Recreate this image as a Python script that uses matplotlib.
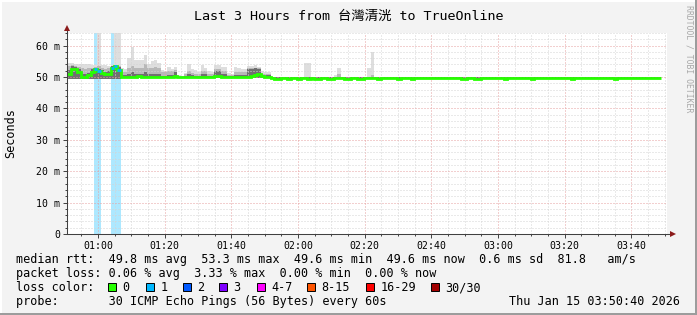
import numpy as np
import matplotlib.pyplot as plt
from matplotlib.patches import Rectangle
from matplotlib.ticker import FuncFormatter, MultipleLocator

# one sample per minute, value covers the minute ending at t_start + i (minutes after midnight)
t_start = 50.75

median_ms = [
    51.1, 51.1, 52.6, 52.5, 51.5, 50.1, 50.0, 50.5, 51.5, 52.4, 52.0, 51.4, 50.8, 51.0, 53.0, 53.4, 52.2, 50.0, 50.0, 50.1,
    50.0, 50.0, 50.2, 50.0, 50.0, 50.1, 50.0, 50.0, 50.0, 50.1, 50.0, 50.0, 50.0, 50.2, 50.0, 50.0, 50.0, 50.0, 50.1, 50.0,
    50.0, 50.0, 50.0, 50.0, 50.0, 50.2, 50.3, 50.0, 50.0, 50.0, 50.0, 50.0, 50.0, 50.0, 50.0, 50.1, 50.2, 50.6, 50.9, 50.4,
    50.0, 50.0, 49.8, 49.5, 49.5, 49.8, 49.8, 49.5, 49.8, 49.8, 49.5, 49.8, 49.8, 49.5, 49.8, 49.5, 49.5, 49.8, 49.8, 49.5,
    49.5, 49.8, 49.8, 49.8, 49.5, 49.5, 49.8, 49.8, 49.5, 49.5, 49.8, 49.8, 49.8, 49.8, 49.5, 49.8, 49.8, 49.8, 49.8, 49.8,
    49.5, 49.8, 49.8, 49.8, 49.5, 49.8, 49.8, 49.8, 49.8, 49.8, 49.8, 49.8, 49.8, 49.8, 49.8, 49.8, 49.8, 49.8, 49.8, 49.5,
    49.5, 49.8, 49.8, 49.5, 49.5, 49.8, 49.8, 49.8, 49.8, 49.8, 49.8, 49.8, 49.5, 49.8, 49.8, 49.8, 49.8, 49.8, 49.8, 49.8,
    49.5, 49.8, 49.8, 49.8, 49.8, 49.8, 49.8, 49.8, 49.8, 49.8, 49.8, 49.8, 49.5, 49.8, 49.8, 49.8, 49.8, 49.8, 49.8, 49.8,
    49.8, 49.8, 49.8, 49.8, 49.8, 49.5, 49.8, 49.8, 49.8, 49.8, 49.8, 49.8, 49.8, 49.8, 49.8, 49.8, 49.8, 49.8, 49.8,
]

loss_count = [
    0, 0, 0, 0, 0, 0, 0, 0, 0, 1, 1, 0, 0, 0, 1, 1, 1, 0, 0, 0,
    0, 0, 0, 0, 0, 0, 0, 0, 0, 0, 0, 0, 0, 0, 0, 0, 0, 0, 0, 0,
    0, 0, 0, 0, 0, 0, 0, 0, 0, 0, 0, 0, 0, 0, 0, 0, 0, 0, 0, 0,
    0, 0, 0, 0, 0, 0, 0, 0, 0, 0, 0, 0, 0, 0, 0, 0, 0, 0, 0, 0,
    0, 0, 0, 0, 0, 0, 0, 0, 0, 0, 0, 0, 0, 0, 0, 0, 0, 0, 0, 0,
    0, 0, 0, 0, 0, 0, 0, 0, 0, 0, 0, 0, 0, 0, 0, 0, 0, 0, 0, 0,
    0, 0, 0, 0, 0, 0, 0, 0, 0, 0, 0, 0, 0, 0, 0, 0, 0, 0, 0, 0,
    0, 0, 0, 0, 0, 0, 0, 0, 0, 0, 0, 0, 0, 0, 0, 0, 0, 0, 0, 0,
    0, 0, 0, 0, 0, 0, 0, 0, 0, 0, 0, 0, 0, 0, 0, 0, 0, 0, 0,
]

# smoke: fastest ping, upper edges of the dark / mid bands, slowest ping
smoke_min = [
    49.5, 49.5, 49.5, 49.5, 49.5, 49.5, 49.5, 49.5, 49.5, 49.5, 49.5, 49.5, 49.5, 49.5, 49.5, 49.5, 49.5, 49.7, 49.7, 49.7,
    49.7, 49.7, 49.7, 49.7, 49.7, 49.7, 49.7, 49.7, 49.7, 49.7, 49.7, 49.7, 49.7, 49.7, 49.7, 49.7, 49.7, 49.7, 49.7, 49.7,
    49.7, 49.7, 49.7, 49.7, 49.7, 49.7, 49.7, 49.7, 49.7, 49.7, 49.7, 49.7, 49.7, 49.7, 49.7, 49.7, 49.7, 49.7, 49.7, 49.7,
    49.7, 49.7, 49.5, 49.5, 49.5, 49.5, 49.5, 49.5, 49.5, 49.5, 49.5, 49.5, 49.5, 49.5, 49.5, 49.5, 49.5, 49.5, 49.5, 49.5,
    49.5, 49.5, 49.5, 49.5, 49.5, 49.5, 49.5, 49.5, 49.5, 49.5, 49.5, 49.5, 49.5, 49.5, 49.5, 49.5, 49.5, 49.5, 49.5, 49.5,
    49.5, 49.5, 49.5, 49.5, 49.5, 49.5, 49.5, 49.5, 49.5, 49.5, 49.5, 49.5, 49.5, 49.5, 49.5, 49.5, 49.5, 49.5, 49.5, 49.5,
    49.5, 49.5, 49.5, 49.5, 49.5, 49.5, 49.5, 49.5, 49.5, 49.5, 49.5, 49.5, 49.5, 49.5, 49.5, 49.5, 49.5, 49.5, 49.5, 49.5,
    49.5, 49.5, 49.5, 49.5, 49.5, 49.5, 49.5, 49.5, 49.5, 49.5, 49.5, 49.5, 49.5, 49.5, 49.5, 49.5, 49.5, 49.5, 49.5, 49.5,
    49.5, 49.5, 49.5, 49.5, 49.5, 49.5, 49.5, 49.5, 49.5, 49.5, 49.5, 49.5, 49.5, 49.5, 49.5, 49.5, 49.5, 49.5, 49.5,
]

smoke_dark = [
    52.2, 52.2, 53.4, 53.2, 52.4, 51.0, 50.8, 51.4, 52.4, 52.8, 52.6, 52.2, 51.6, 51.8, 53.4, 53.8, 53.2, 50.6, 50.6, 51.0,
    51.5, 51.0, 51.0, 50.8, 51.5, 50.8, 50.8, 51.0, 50.8, 50.4, 50.4, 50.6, 50.6, 51.5, 50.1, 50.1, 50.4, 50.8, 50.5, 50.4,
    50.4, 50.8, 50.8, 50.4, 50.4, 52.0, 52.0, 50.8, 50.8, 50.2, 50.2, 50.6, 50.6, 50.5, 50.5, 52.5, 52.5, 52.8, 52.4, 50.6,
    50.6, 50.6, 49.9, 49.9, 49.9, 49.9, 49.9, 49.9, 49.9, 49.9, 49.9, 49.9, 49.9, 49.9, 49.9, 49.9, 49.9, 49.9, 49.9, 49.9,
    49.9, 49.9, 49.9, 49.9, 49.9, 49.9, 49.9, 49.9, 49.9, 49.9, 49.9, 49.9, 49.9, 49.9, 49.9, 49.9, 49.9, 49.9, 49.9, 49.9,
    49.9, 49.9, 49.9, 49.9, 49.9, 49.9, 49.9, 49.9, 49.9, 49.9, 49.9, 49.9, 49.9, 49.9, 49.9, 49.9, 49.9, 49.9, 49.9, 49.9,
    49.9, 49.9, 49.9, 49.9, 49.9, 49.9, 49.9, 49.9, 49.9, 49.9, 49.9, 49.9, 49.9, 49.9, 49.9, 49.9, 49.9, 49.9, 49.9, 49.9,
    49.9, 49.9, 49.9, 49.9, 49.9, 49.9, 49.9, 49.9, 49.9, 49.9, 49.9, 49.9, 49.9, 49.9, 49.9, 49.9, 49.9, 49.9, 49.9, 49.9,
    49.9, 49.9, 49.9, 49.9, 49.9, 49.9, 49.9, 49.9, 49.9, 49.9, 49.9, 49.9, 49.9, 49.9, 49.9, 49.9, 49.9, 49.9, 49.9,
]

smoke_mid = [
    53.6, 53.6, 53.8, 53.6, 53.2, 52.8, 52.6, 52.8, 53.0, 53.2, 53.4, 53.0, 52.6, 52.8, 53.6, 53.8, 53.6, 51.5, 51.5, 53.0,
    53.5, 53.0, 53.0, 52.8, 54.0, 53.0, 53.0, 53.2, 53.0, 51.5, 51.5, 52.0, 52.0, 52.2, 50.3, 50.2, 51.0, 52.0, 51.2, 51.0,
    51.0, 52.0, 52.0, 51.0, 51.0, 52.5, 52.5, 52.0, 52.0, 50.5, 50.5, 51.5, 51.5, 51.5, 51.5, 52.8, 52.8, 52.8, 52.8, 51.0,
    51.0, 51.0, 50.0, 50.0, 50.0, 50.0, 50.0, 50.0, 50.0, 50.0, 50.0, 50.0, 50.0, 50.0, 50.0, 50.0, 50.0, 50.0, 50.0, 50.0,
    50.0, 50.0, 51.0, 50.0, 50.0, 50.0, 50.0, 50.0, 50.0, 50.0, 50.0, 50.0, 50.5, 50.0, 50.0, 50.0, 50.0, 50.0, 50.0, 50.0,
    50.0, 50.0, 50.0, 50.0, 50.0, 50.0, 50.0, 50.0, 50.0, 50.0, 50.0, 50.0, 50.0, 50.0, 50.0, 50.0, 50.0, 50.0, 50.0, 50.0,
    50.0, 50.0, 50.0, 50.0, 50.0, 50.0, 50.0, 50.0, 50.0, 50.0, 50.0, 50.0, 50.0, 50.0, 50.0, 50.0, 50.0, 50.0, 50.0, 50.0,
    50.0, 50.0, 50.0, 50.0, 50.0, 50.0, 50.0, 50.0, 50.0, 50.0, 50.0, 50.0, 50.0, 50.0, 50.0, 50.0, 50.0, 50.0, 50.0, 50.0,
    50.0, 50.0, 50.0, 50.0, 50.0, 50.0, 50.0, 50.0, 50.0, 50.0, 50.0, 50.0, 50.0, 50.0, 50.0, 50.0, 50.0, 50.0, 50.0,
]

smoke_max = [
    54.4, 54.4, 54.4, 54.2, 54.0, 54.0, 54.2, 54.0, 53.8, 53.8, 70.0, 53.8, 53.8, 53.6, 53.8, 70.0, 70.0, 53.0, 52.5, 56.0,
    59.4, 55.3, 55.3, 55.3, 57.0, 54.0, 55.0, 55.4, 54.5, 52.2, 52.0, 53.3, 52.5, 53.3, 50.6, 50.3, 51.4, 54.0, 52.5, 52.2,
    51.5, 53.7, 52.8, 51.9, 51.5, 53.8, 53.8, 53.3, 53.3, 51.4, 51.0, 53.3, 53.0, 52.5, 52.6, 53.5, 53.5, 53.8, 53.3, 52.0,
    51.7, 51.7, 50.1, 50.1, 50.1, 50.1, 50.1, 50.1, 50.1, 50.1, 50.1, 50.1, 54.4, 54.4, 50.1, 50.1, 50.1, 50.1, 50.1, 50.1,
    50.1, 50.6, 52.7, 50.1, 50.1, 50.1, 50.1, 50.1, 50.1, 50.1, 50.1, 53.0, 57.8, 50.1, 50.1, 50.1, 50.1, 50.1, 50.1, 50.1,
    50.1, 50.1, 50.1, 50.1, 50.1, 50.1, 50.1, 50.1, 50.1, 50.1, 50.1, 50.1, 50.1, 50.1, 50.1, 50.1, 50.1, 50.1, 50.1, 50.1,
    50.1, 50.1, 50.1, 50.1, 50.1, 50.1, 50.1, 50.1, 50.1, 50.1, 50.1, 50.1, 50.1, 50.1, 50.1, 50.1, 50.1, 50.1, 50.1, 50.1,
    50.1, 50.1, 50.1, 50.1, 50.1, 50.1, 50.1, 50.1, 50.1, 50.1, 50.1, 50.1, 50.1, 50.1, 50.1, 50.1, 50.1, 50.1, 50.1, 50.1,
    50.1, 50.1, 50.1, 50.1, 50.1, 50.1, 50.1, 50.1, 50.1, 50.1, 50.1, 50.1, 50.1, 50.1, 50.1, 50.1, 50.1, 50.1, 50.1,
]

loss_labels = ["0", "1", "2", "3", "4-7", "8-15", "16-29", "30/30"]
loss_colors = ["#26ff00", "#00b8ff", "#0059ff", "#7e00ff", "#ff00ff", "#ff5500", "#ff0000", "#a10000"]

stats_rtt = "median rtt:  49.8 ms avg  53.3 ms max  49.6 ms min  49.6 ms now  0.6 ms sd  81.8   am/s"
stats_loss = "packet loss: 0.06 % avg  3.33 % max  0.00 % min  0.00 % now"
probe_text = "probe:       30 ICMP Echo Pings (56 Bytes) every 60s"
stamp = "Thu Jan 15 03:50:40 2026"

plt.rcParams['font.family'] = ['DejaVu Sans Mono', 'Noto Sans CJK TC']

W, H = 697, 315
fig = plt.figure(figsize=(W / 100, H / 100), dpi=100, facecolor='#f3f3f3')
ax = fig.add_axes([67 / W, 1 - 234 / H, 600 / W, 201 / H])
ax.set_facecolor('white')

n = len(median_ms)
edges = t_start - 1 + np.arange(n + 1)
med = np.array(median_ms)
loss = np.array(loss_count)

# loss background bars
for i in range(n):
    if loss[i] > 0:
        ax.axvspan(edges[i], edges[i + 1], color=loss_colors[1], alpha=0.32, lw=0, zorder=1)

# smoke
ax.stairs(smoke_max, edges, baseline=smoke_min, fill=True, color='#dedede', lw=0, zorder=2)
ax.stairs(smoke_mid, edges, baseline=smoke_min, fill=True, color='#b8b8b8', lw=0, zorder=2)
ax.stairs(smoke_dark, edges, baseline=smoke_min, fill=True, color='#707070', lw=0, zorder=2)

# median line, coloured by loss
ax.stairs(med, edges, baseline=None, color=loss_colors[0], lw=2.0, zorder=4)
for i in range(n):
    if loss[i] > 0:
        ax.hlines(med[i], edges[i], edges[i + 1], color=loss_colors[1], lw=2.0, zorder=5)

ax.set_xlim(50 + 40 / 60, 230 + 40 / 60)
ax.set_ylim(0, 64)

ax.xaxis.set_major_locator(MultipleLocator(20))
ax.xaxis.set_minor_locator(MultipleLocator(5))
ax.xaxis.set_major_formatter(FuncFormatter(lambda v, p: f"{int(v // 60):02d}:{int(v % 60):02d}"))
ax.yaxis.set_major_locator(MultipleLocator(10))
ax.yaxis.set_minor_locator(MultipleLocator(2))
ax.yaxis.set_major_formatter(FuncFormatter(lambda v, p: "0" if v == 0 else f"{int(v)} m"))

ax.set_axisbelow(False)
ax.grid(which='minor', color='#d4d4d4', linestyle=(0, (1, 2)), lw=0.72, zorder=3)
ax.grid(which='major', color='#e6a0a0', linestyle=(0, (1, 2)), lw=0.72, zorder=3)

for s in ax.spines.values():
    s.set_visible(False)
ax.tick_params(which='major', length=3, width=0.7, color='#404040', labelsize=7.1, pad=2, labelcolor='#000000')
ax.tick_params(which='minor', length=1.5, width=0.7, color='#404040')

# axes with arrows
ax.plot([0, 0], [0, 1 + 3 / 201], transform=ax.transAxes, color='#404040', lw=0.75, clip_on=False, zorder=6)
ax.plot([0, 1 + 3 / 600], [0, 0], transform=ax.transAxes, color='#404040', lw=0.75, clip_on=False, zorder=6)
ax.plot(0, 1 + 5 / 201, marker='^', ms=4.5, color='#8b1a1a', mew=0, transform=ax.transAxes, clip_on=False, zorder=6)
ax.plot(1 + 6 / 600, 0, marker='>', ms=4.5, color='#8b1a1a', mew=0, transform=ax.transAxes, clip_on=False, zorder=6)

fig.text(348.5 / W, 1 - 19.5 / H, "Last 3 Hours from 台灣清洸 to TrueOnline",
         ha='center', va='baseline', fontsize=9.6)
fig.text(11 / W, 1 - 133 / H, "Seconds", rotation=90, ha='center', va='center', fontsize=8.5)
fig.text(689 / W, 1 - 5 / H, "RRDTOOL / TOBI OETIKER", rotation=270, ha='center', va='top',
         fontsize=5.9, color='#a8a8a8')

fig.text(16 / W, 1 - 263.3 / H, stats_rtt, ha='left', va='baseline', fontsize=8.5)
fig.text(16 / W, 1 - 277.3 / H, stats_loss, ha='left', va='baseline', fontsize=8.5)
fig.text(16 / W, 1 - 291.3 / H, "loss color:", ha='left', va='baseline', fontsize=8.5)
fig.text(16 / W, 1 - 305 / H, probe_text, ha='left', va='baseline', fontsize=8.5)
fig.text(680 / W, 1 - 305 / H, stamp, ha='right', va='baseline', fontsize=8.5)

box_x = [108, 146, 183, 219, 257, 307, 366, 431]
for bx, lab, col in zip(box_x, loss_labels, loss_colors):
    fig.add_artist(Rectangle((bx / W, 1 - 291 / H), 8 / W, 8 / H, transform=fig.transFigure,
                             facecolor=col, edgecolor='black', lw=0.7))
    fig.text((bx + 14.5) / W, 1 - 291.3 / H, lab, ha='left', va='baseline', fontsize=8.5)

# 3d frame of the canvas
fig.add_artist(Rectangle((0, 1 - 2 / H), 1, 2 / H, transform=fig.transFigure, facecolor='white', lw=0))
fig.add_artist(Rectangle((0, 0), 2 / W, 1, transform=fig.transFigure, facecolor='white', lw=0))
fig.add_artist(Rectangle((0, 0), 1, 2 / H, transform=fig.transFigure, facecolor='#9c9c9c', lw=0))
fig.add_artist(Rectangle((1 - 2 / W, 0), 2 / W, 1, transform=fig.transFigure, facecolor='#9c9c9c', lw=0))

fig.savefig("out.png", dpi=100, facecolor=fig.get_facecolor())
